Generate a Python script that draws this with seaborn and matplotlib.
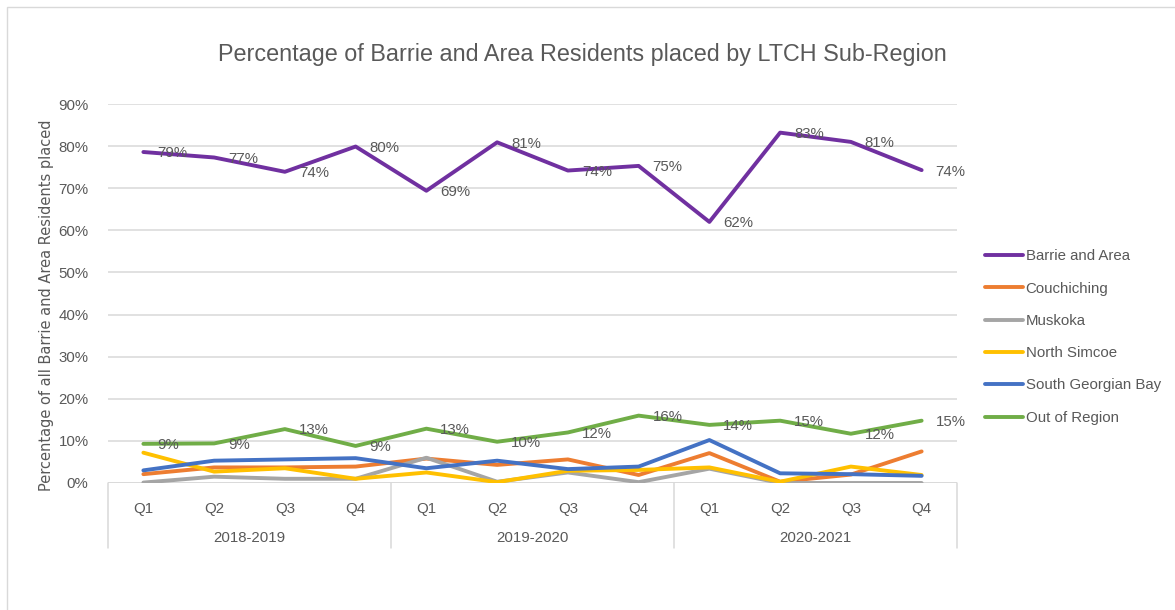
import matplotlib
matplotlib.use("Agg")
import matplotlib.pyplot as plt
import seaborn as sns
import pandas as pd
from matplotlib.patches import Rectangle

# data (percent of residents placed)
years = ["2018-2019", "2019-2020", "2020-2021"]
quarters = ["Q1", "Q2", "Q3", "Q4"]
series = ["Barrie and Area", "Couchiching", "Muskoka", "North Simcoe",
          "South Georgian Bay", "Out of Region"]
barrie = [78.6, 77.3, 73.9, 79.9, 69.4, 80.9, 74.2, 75.3, 62.0, 83.2, 81.0, 74.3]
couchiching = [2.1, 3.7, 3.7, 3.9, 5.8, 4.3, 5.6, 1.9, 7.1, 0.3, 2.0, 7.5]
muskoka = [0.1, 1.5, 1.0, 1.0, 6.0, 0.3, 2.5, 0.2, 3.4, 0.0, 0.0, 0.0]
north_simcoe = [7.2, 2.7, 3.5, 1.0, 2.5, 0.2, 2.9, 3.1, 3.7, 0.3, 3.9, 1.9]
south_georgian = [3.0, 5.3, 5.6, 5.9, 3.5, 5.3, 3.3, 3.9, 10.2, 2.3, 2.1, 1.7]
out_of_region = [9.3, 9.4, 12.8, 8.8, 12.9, 9.8, 12.0, 16.0, 13.8, 14.8, 11.7, 14.8]
labelled = ["Barrie and Area", "Out of Region"]

colors = ["#7030A0", "#ED7D31", "#A5A5A5", "#FFC000", "#4472C4", "#70AD47"]
txt = "#595959"
grid = "#D9D9D9"

periods = [f"{y} {q}" for y in years for q in quarters]
values = [barrie, couchiching, muskoka, north_simcoe, south_georgian, out_of_region]
rows = []
for name, vals in zip(series, values):
    for p, v in zip(periods, vals):
        rows.append({"period": p, "region": name, "pct": v / 100})
df = pd.DataFrame(rows)

sns.set_style("white")
plt.rcParams["font.family"] = ["Liberation Sans", "DejaVu Sans"]

fig = plt.figure(figsize=(11.75, 6.10), dpi=100)
ax = fig.add_axes([108 / 1175, 1 - 483 / 610, (957 - 108) / 1175, (483 - 104) / 610])

sns.lineplot(data=df, x="period", y="pct", hue="region", hue_order=series,
             palette=colors, linewidth=2.8, ax=ax, sort=False)

# data labels on two series
for name in labelled:
    sub = df[df.region == name]
    for i, (p, v) in enumerate(zip(sub.period, sub.pct)):
        ax.annotate(f"{v:.0%}", (i, v), xytext=(10, -1), textcoords="offset points",
                    ha="left", va="center", fontsize=10.8, color=txt)

ax.set_ylim(0, 0.9)
ax.set_xlim(-0.5, len(periods) - 0.5)
ax.set_yticks([i / 10 for i in range(10)])
ax.set_yticklabels([f"{i * 10}%" for i in range(10)], fontsize=10.8, color=txt)
ax.set_xticks(range(len(periods)))
ax.set_xticklabels(quarters * len(years), fontsize=10.8, color=txt)
ax.tick_params(axis="both", length=0)
ax.tick_params(axis="x", pad=14)
ax.tick_params(axis="y", pad=14)
ax.yaxis.grid(True, color=grid, linewidth=1.1)
ax.set_axisbelow(True)
for s in ax.spines.values():
    s.set_visible(False)
ax.axhline(0, color=grid, linewidth=1.1, zorder=0.5)

ax.set_xlabel("")
ax.set_ylabel("Percentage of all Barrie and Area Residents placed",
              fontsize=10.5, color=txt, family="DejaVu Sans")
ax.yaxis.set_label_coords(-0.064, 0.47)

# year groups under the quarters
sep_bottom = -(548 - 483) / (483 - 104)
for k in range(len(years) + 1):
    x = k * 4 - 0.5
    ax.plot([x, x], [0, sep_bottom], color=grid, linewidth=1.1,
            transform=ax.get_xaxis_transform(), clip_on=False)
for k, y in enumerate(years):
    ax.text(k * 4 + 1.5, -(538 - 483) / (483 - 104), y, ha="center", va="center",
            fontsize=10.8, color=txt, transform=ax.get_xaxis_transform())

handles, labels = ax.get_legend_handles_labels()
ax.legend(handles, labels, loc="center left", bbox_to_anchor=(985 / 1175, 1 - 337 / 610),
          bbox_transform=fig.transFigure, frameon=False, fontsize=10.8, labelcolor=txt,
          borderpad=0, borderaxespad=0, handlelength=2.5, handletextpad=0.2,
          labelspacing=1.22)

fig.text(582 / 1175, 1 - 55 / 610, "Percentage of Barrie and Area Residents placed by LTCH Sub-Region",
         ha="center", va="center", fontsize=16.8, color=txt)

fig.patches.append(Rectangle((7 / 1175, -0.1), 1.2, 1 - 7 / 610 + 0.1, transform=fig.transFigure,
                             fill=False, edgecolor=grid, linewidth=1))

fig.savefig("out.png", dpi=100)
